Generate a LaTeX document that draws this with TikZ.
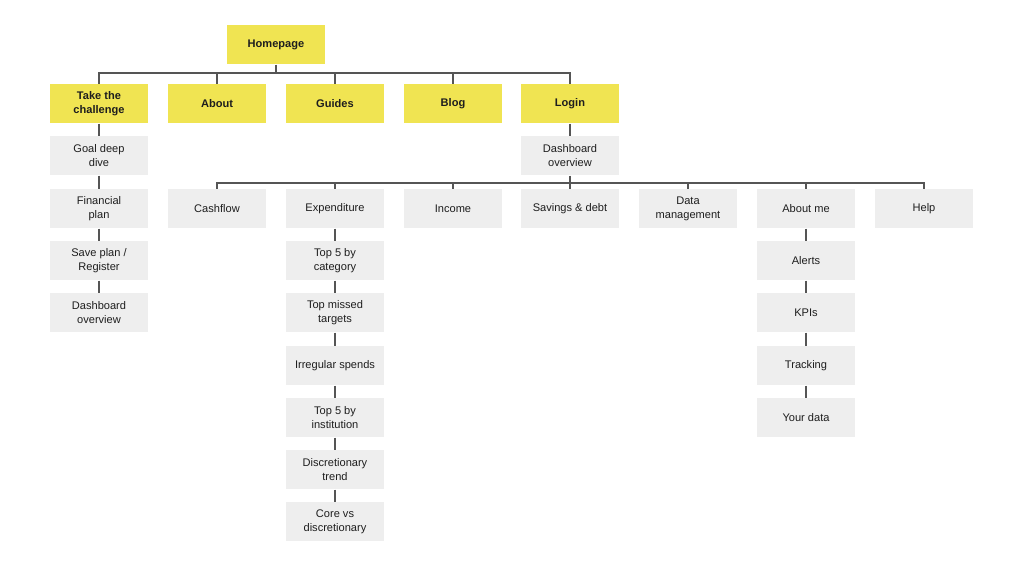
\documentclass[tikz,border=0pt]{standalone}
\usepackage{fontspec}
\setmainfont{Liberation Sans}
\definecolor{pageyellow}{RGB}{240,228,82}
\definecolor{pagegrey}{RGB}{238,238,238}
\definecolor{linegrey}{RGB}{85,85,85}
\definecolor{textblack}{RGB}{30,30,30}
\tikzset{every picture/.style={line width=0.75pt}}
\tikzset{
  mainpage/.style={fill=pageyellow, minimum width=73.5pt, minimum height=29.25pt, inner sep=1pt, align=center, text=textblack, font=\fontsize{8.3}{10.4}\selectfont\bfseries},
  subpage/.style={fill=pagegrey, minimum width=73.5pt, minimum height=29.25pt, inner sep=1pt, align=center, text=textblack, font=\fontsize{8.3}{10.4}\selectfont},
  link/.style={draw=linegrey, line width=0.8pt}
}

\begin{document}
\begin{tikzpicture}[x=0.75pt,y=0.75pt,yscale=-1,xscale=1]
  \useasboundingbox (0,0) rectangle (1024,568);

  %Top level
  \node [mainpage] (home) at (276,44.5) {Homepage};
  \node [mainpage] (take) at (99,103.5) {Take the\\challenge};
  \node [mainpage] (about) at (217,103.5) {About};
  \node [mainpage] (guides) at (335,103.5) {Guides};
  \node [mainpage] (blog) at (453,103.5) {Blog};
  \node [mainpage] (login) at (570,103.5) {Login};
  \coordinate (bustop) at (276,73);

  %Take the challenge column
  \node [subpage] (goal) at (99,155.5) {Goal deep\\dive};
  \node [subpage] (plan) at (99,208.5) {Financial\\plan};
  \node [subpage] (save) at (99,260.5) {Save plan /\\Register};
  \node [subpage] (dashleft) at (99,312.5) {Dashboard\\overview};

  %Dashboard row
  \node [subpage] (dash) at (570,155.5) {Dashboard\\overview};
  \coordinate (busdash) at (570,183);
  \node [subpage] (cash) at (217,208.5) {Cashflow};
  \node [subpage] (spend) at (335,208.5) {Expenditure};
  \node [subpage] (income) at (453,208.5) {Income};
  \node [subpage] (savings) at (570,208.5) {Savings \& debt};
  \node [subpage] (data) at (688,208.5) {Data\\management};
  \node [subpage] (aboutme) at (806,208.5) {About me};
  \node [subpage] (help) at (924,208.5) {Help};

  %Expenditure column
  \node [subpage] (topcat) at (335,260.5) {Top 5 by\\category};
  \node [subpage] (missed) at (335,312.5) {Top missed\\targets};
  \node [subpage] (irregular) at (335,365.5) {Irregular spends};
  \node [subpage] (topinst) at (335,417.5) {Top 5 by\\institution};
  \node [subpage] (trend) at (335,469.5) {Discretionary\\trend};
  \node [subpage] (core) at (335,521.5) {Core vs\\discretionary};

  %About me column
  \node [subpage] (alerts) at (806,260.5) {Alerts};
  \node [subpage] (kpis) at (806,312.5) {KPIs};
  \node [subpage] (tracking) at (806,365.5) {Tracking};
  \node [subpage] (yourdata) at (806,417.5) {Your data};

  %Links
  \draw [link] (home.south) -- (bustop);
  \draw [link] (bustop) -| (take.north);
  \draw [link] (bustop) -| (about.north);
  \draw [link] (bustop) -| (guides.north);
  \draw [link] (bustop) -| (blog.north);
  \draw [link] (bustop) -| (login.north);
  \draw [link] (take) -- (goal);
  \draw [link] (goal) -- (plan);
  \draw [link] (plan) -- (save);
  \draw [link] (save) -- (dashleft);
  \draw [link] (login) -- (dash);
  \draw [link] (dash.south) -- (busdash);
  \draw [link] (busdash) -| (cash.north);
  \draw [link] (busdash) -| (spend.north);
  \draw [link] (busdash) -| (income.north);
  \draw [link] (busdash) -| (savings.north);
  \draw [link] (busdash) -| (data.north);
  \draw [link] (busdash) -| (aboutme.north);
  \draw [link] (busdash) -| (help.north);
  \draw [link] (spend) -- (topcat);
  \draw [link] (topcat) -- (missed);
  \draw [link] (missed) -- (irregular);
  \draw [link] (irregular) -- (topinst);
  \draw [link] (topinst) -- (trend);
  \draw [link] (trend) -- (core);
  \draw [link] (aboutme) -- (alerts);
  \draw [link] (alerts) -- (kpis);
  \draw [link] (kpis) -- (tracking);
  \draw [link] (tracking) -- (yourdata);

\end{tikzpicture}
\end{document}
